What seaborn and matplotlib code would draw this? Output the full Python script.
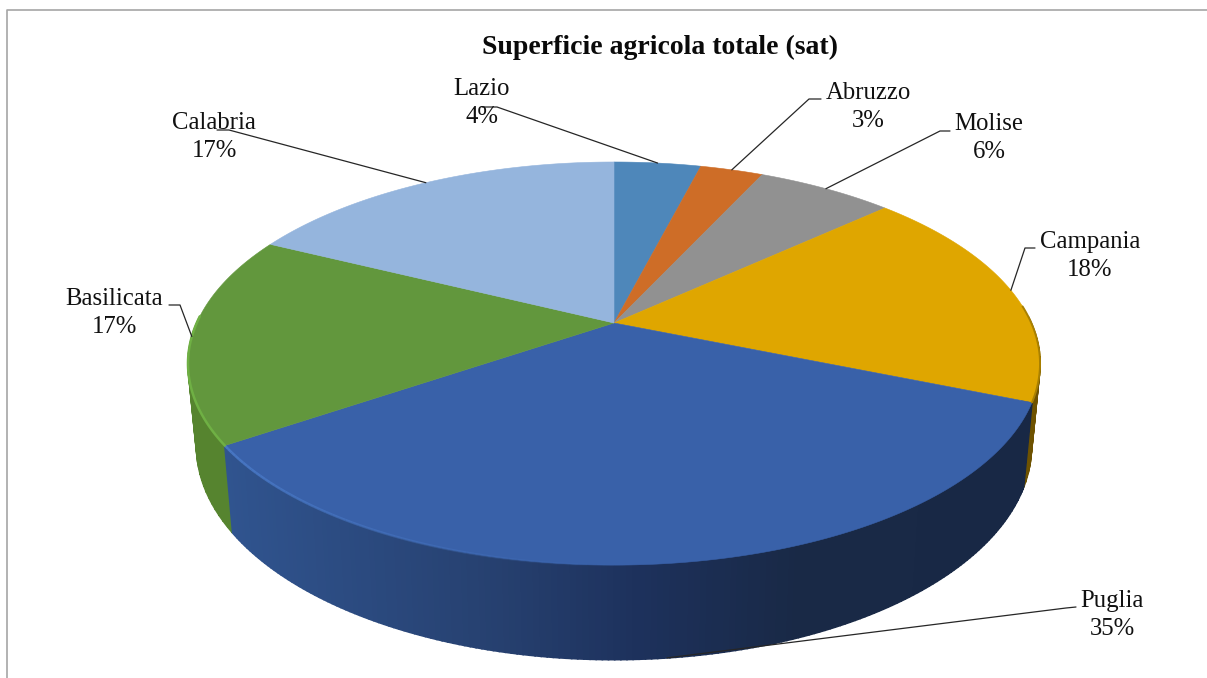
import numpy as np
import matplotlib
matplotlib.use("Agg")
import matplotlib.pyplot as plt
import seaborn as sns

# ---- data ----
regions = ["Lazio", "Abruzzo", "Molise", "Campania", "Puglia", "Basilicata", "Calabria"]
shares = [4.0, 2.9, 6.3, 18.0, 34.3, 16.8, 17.7]
percent_labels = ["4%", "3%", "6%", "18%", "35%", "17%", "17%"]
title = "Superficie agricola totale (sat)"

# ---- style ----
sns.set_theme(style="white")
plt.rcParams["font.family"] = ["Liberation Serif", "DejaVu Serif"]
palette = sns.color_palette(["#4E87BA", "#CE6D27", "#919191", "#DFA600",
                             "#3961A9", "#62973D", "#95B5DD"])

W, H = 1207, 678
CX, CY = 614.0, 323.0           # pie centre on the canvas
A, B, K = 417.3, 193.4, 0.2012  # perspective of the top face
SX, SY, DEPTH = 0.98, 1.06, 80  # lower rim relative to the top rim


def top_xy(theta):
    u, v = np.sin(theta), np.cos(theta)
    w = 1 + K * v
    return A * u / w, B * v / w


def top(theta):
    x, y = top_xy(theta)
    return CX + x, CY - y


def bottom(theta):
    x, y = top_xy(theta)
    return CX + SX * x, CY + DEPTH - SY * y


fig = plt.figure(figsize=(W / 100, H / 100), dpi=100)
ax = fig.add_axes([0, 0, 1, 1])
ax.set_xlim(0, W)
ax.set_ylim(H, 0)
ax.axis("off")

# outer chart frame
ax.plot([7, 7, W], [H, 10, 10], color="#A6A6A6", lw=1.2)

edges = np.radians(np.concatenate([[0], np.cumsum(shares)]) / np.sum(shares) * 360)
mids = (edges[:-1] + edges[1:]) / 2
camp_end, pug_end = edges[4], edges[5]


def side_strip(t0, t1, color):
    ts = np.linspace(t0, t1, 4)
    xt, yt = top(ts)
    xb, yb = bottom(ts)
    ax.fill(np.r_[xt, xb[::-1]], np.r_[yt, yb[::-1]], facecolor=color, edgecolor=color,
            lw=1.2, zorder=2)


def lerp_puglia(x):
    stops_x = [225, 500, 640, 800, 1035]
    stops = np.array([[48, 84, 143], [38, 64, 111], [29, 49, 92], [25, 41, 70], [24, 40, 69]]) / 255
    return [float(np.interp(x, stops_x, stops[:, i])) for i in range(3)]


# side wall: Basilicata (left), Campania (thin dark rim on the right), Puglia (shaded)
xt0, xt1 = np.radians(272), np.radians(88)
g = np.linspace(pug_end, xt0, 25)
for t0, t1 in zip(g[:-1], g[1:]):
    side_strip(t0, t1, "#56842F")
g = np.linspace(xt1, camp_end, 20)
for t0, t1 in zip(g[:-1], g[1:]):
    side_strip(t0, t1, "#6E5200")
grid = np.linspace(pug_end, camp_end, 180)
for t0, t1 in zip(grid[:-1], grid[1:]):
    side_strip(t0, t1, lerp_puglia(top((t0 + t1) / 2)[0]))

# top face
for t0, t1, col in zip(edges[:-1], edges[1:], palette):
    ts = np.linspace(t0, t1, 160)
    xs, ys = top(ts)
    ax.fill(np.r_[CX, xs], np.r_[CY, ys], facecolor=col, edgecolor=col, lw=0.4, zorder=3)

# soft highlights on the rims
ts = np.linspace(np.radians(178), pug_end, 60)
for t0, t1, al in zip(ts[:-1], ts[1:], np.linspace(0.0, 0.9, 59)):
    ax.plot(*top(np.array([t0, t1])), color="#4A7AC8", lw=1.8, zorder=4, alpha=float(al),
            solid_capstyle="butt")
ts = np.linspace(pug_end, np.radians(272), 50)
ax.plot(*top(ts), color="#6FB044", lw=1.8, zorder=4)
ts = np.linspace(np.radians(85), camp_end, 40)
ax.plot(*top(ts), color="#A98000", lw=1.4, zorder=4)

# labels with leader lines
label_xy = [(482, 103), (868, 107), (989, 138), (1090, 256), (1112, 615), (114, 313), (214, 137)]
elbows = [((482, 107), (497, 107)), ((821, 99), (809, 99)), ((950, 131), (940, 131)),
          ((1035, 248), (1025, 248)), ((1076, 607), (1066, 608)), ((169, 305), (180, 305)),
          ((217, 130), (229, 130))]

for i, name in enumerate(regions):
    anchor = bottom(mids[i]) if name == "Puglia" else top(mids[i])
    (x0, y0), (x1, y1) = elbows[i]
    ax.plot([x0, x1, anchor[0]], [y0, y1, anchor[1]], color="#262626", lw=0.9, zorder=5)
    ax.text(label_xy[i][0], label_xy[i][1], f"{name}\n{percent_labels[i]}", ha="center", va="center",
            fontsize=17.8, color="#111111", linespacing=1.3, zorder=6)

ax.text(660.5, 47, title, ha="center", va="center", fontsize=20, fontweight="bold",
        color="#0A0A0A", zorder=6)

fig.savefig("out.png", dpi=100, facecolor="white")
